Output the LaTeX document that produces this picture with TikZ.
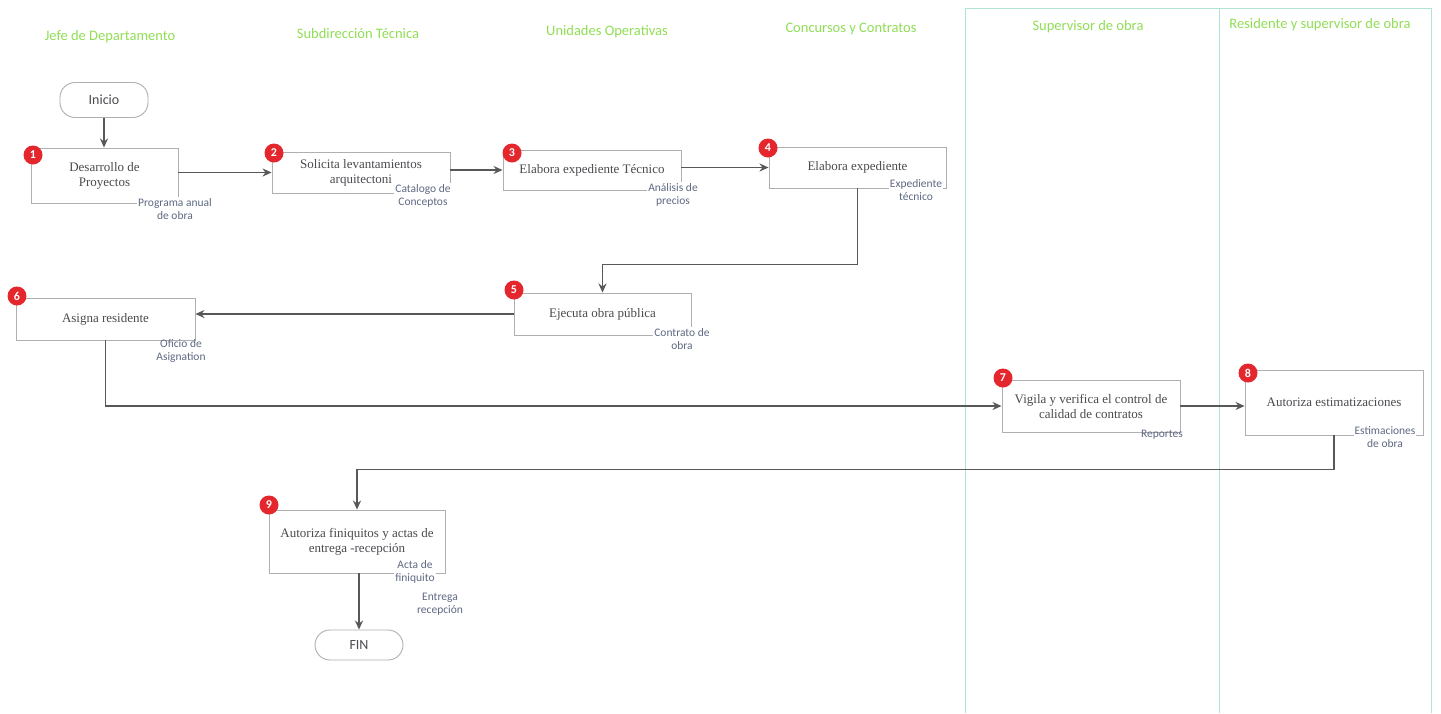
\documentclass[tikz,border=0pt]{standalone}
\usepackage{fontspec}
\setmainfont{Liberation Serif}
\newfontfamily\carl{Carlito}
\usetikzlibrary{arrows.meta,calc}
\definecolor{hdr}{RGB}{145,222,85}
\definecolor{lanec}{RGB}{175,228,215}
\definecolor{arrc}{RGB}{88,88,88}
\definecolor{boxc}{RGB}{175,175,175}
\definecolor{badgec}{RGB}{228,38,45}
\definecolor{lblc}{RGB}{95,105,130}
\definecolor{txtc}{RGB}{75,75,80}
\tikzset{
  hdrtext/.style={font=\carl\fontsize{14.5}{16}\selectfont, text=hdr},
  procbox/.style={draw=boxc, line width=0.9pt, fill=white, align=center, text=txtc,
    font=\fontsize{13}{15}\selectfont, inner sep=2pt},
  term/.style={draw=boxc, line width=0.9pt, fill=white, rounded corners=15pt,
    font=\carl\fontsize{14}{16}\selectfont, text=txtc},
  badge/.style={circle, fill=badgec, text=white, minimum size=19pt, inner sep=0pt,
    font=\carl\bfseries\fontsize{12}{12}\selectfont},
  lbl/.style={font=\carl\fontsize{11.5}{13.5}\selectfont, text=lblc, align=center},
  arr/.style={draw=arrc, line width=1.8pt, -{Stealth[length=9pt,width=8pt]}},
  lane/.style={draw=lanec, line width=0.8pt}
}
\begin{document}
\begin{tikzpicture}[x=1pt,y=-1pt]
\useasboundingbox[fill=white] (0,0) rectangle (1441,713);
% lanes
\draw[lane] (965,713) -- (965,8) -- (1431,8) -- (1431,713);
\draw[lane] (1219,8) -- (1219,713);
% headers
\node[hdrtext] (h1) at (110,37) {Jefe de Departamento};
\node[hdrtext] (h2) at (358,34) {Subdirección Técnica};
\node[hdrtext] (h3) at (607,32) {Unidades Operativas};
\node[hdrtext] (h4) at (851,29) {Concursos y Contratos};
\node[hdrtext] (h5) at (1088,27) {Supervisor de obra};
\node[hdrtext] (h6) at (1320,25) {Residente y supervisor de obra};
% terminals
\node[term, minimum width=88pt, minimum height=35pt] (ini) at (104,100) {Inicio};
\node[term, minimum width=88pt, minimum height=30pt] (fin) at (359,645) {FIN};
% process boxes
\node[procbox, minimum width=147pt, minimum height=55pt] (b1) at (104.5,175.5) {Desarrollo de\\Proyectos};
\node[procbox, minimum width=178pt, minimum height=41pt] (b2) at (361,172.5) {Solicita levantamientos\\arquitectoni};
\node[procbox, minimum width=178pt, minimum height=40pt] (b3) at (592,170) {Elabora expediente Técnico};
\node[procbox, minimum width=177pt, minimum height=41pt] (b4) at (857.5,167.5) {Elabora expediente};
\node[procbox, minimum width=177pt, minimum height=42pt] (b5) at (602.5,314) {Ejecuta obra pública};
\node[procbox, minimum width=179pt, minimum height=42pt] (b6) at (105.5,319) {Asigna residente};
\node[procbox, minimum width=178pt, minimum height=52pt] (b7) at (1091,406) {Vigila y verifica el control de\\calidad de contratos};
\node[procbox, minimum width=178pt, minimum height=65pt] (b8) at (1334,402.5) {Autoriza estimatizaciones};
\node[procbox, minimum width=176pt, minimum height=63pt] (b9) at (357,541.5) {Autoriza finiquitos y actas de\\entrega -recepción};
% badges
\node[badge] (n1) at (33,155) {1};
\node[badge] (n2) at (274,153) {2};
\node[badge] (n3) at (512,153) {3};
\node[badge] (n4) at (768,148) {4};
\node[badge] (n5) at (514,290) {5};
\node[badge] (n6) at (17,296) {6};
\node[badge] (n7) at (1003,378) {7};
\node[badge] (n8) at (1248,373) {8};
\node[badge] (n9) at (269,505) {9};
% document labels
\node[lbl, fill=white, inner sep=1pt] (l1) at (175,209) {Programa anual\\de obra};
\node[lbl, fill=white, inner sep=1pt] (l2) at (423,196) {Catalogo de\\Conceptos};
\node[lbl, fill=white, inner sep=1pt] (l3) at (673,195) {Análisis de\\precios};
\node[lbl, fill=white, inner sep=1pt] (l4) at (916,190) {Expediente\\técnico};
\node[lbl, fill=white, inner sep=1pt] (l5) at (682,339) {Contrato de\\obra};
\node[lbl] (l6) at (181,351) {Oficio de\\Asignation};
\node[lbl] (l7) at (1162,435) {Reportes};
\node[lbl, fill=white, inner sep=1pt] (l8) at (1385,437) {Estimaciones\\de obra};
\node[lbl, fill=white, inner sep=1pt] (l9) at (415,572) {Acta de\\finiquito};
\node[lbl] (l10) at (440,604) {Entrega\\recepción};
% connectors
\draw[arr] (ini.south) -- (ini.south |- b1.north);
\draw[arr] (b1.east |- b2.west) -- (b2.west);
\draw[arr] (b2.east |- b3.west) -- (b3.west);
\draw[arr] (b3.east |- b4.west) -- (b4.west);
\draw[arr] (b4.south) |- ([yshift=28pt]b5.north) -- (b5.north);
\draw[arr] (b5.west) -- (b5.west -| b6.east);
\draw[arr] (b6.south) |- (b7.west);
\draw[arr] (b7.east) -- (b7.east -| b8.west);
\draw[arr] (b8.south) |- ([yshift=40pt]b9.north) -- (b9.north);
\draw[arr] (fin.north |- b9.south) -- (fin.north);
\end{tikzpicture}
\end{document}
